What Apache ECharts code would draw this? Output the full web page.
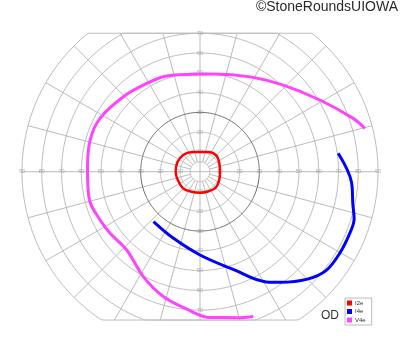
<!DOCTYPE html>
<html><head><meta charset="utf-8">
<script src="https://cdn.jsdelivr.net/npm/echarts@6/dist/echarts.min.js"></script>
<style>html,body{margin:0;padding:0;background:#fff}#c{width:400px;height:352px}</style>
</head><body><div id="c"></div>
<script>
// ---- data: [angle (deg), eccentricity (deg)] ----
const i2e = [[0,10.1],[22,10.6],[45,11.6],[67,10.8],[90,10.0],[112,10.7],[135,12.0],[157,12.4],[180,12.3],[202,12.0],[225,12.0],[247,11.0],[270,10.6],[292,10.8],[315,11.3],[337,10.6],[360,10.1]];
const i4e = [[227,34.5],[248,36.2],[270,42.1],[289,52.4],[301,65.0],[306,69.1],[315,76.8],[322,81.0],[330,81.8],[338,81.9],[343,81.5],[348,79.0],[356,76.8],[7.6,70.5]];
const v4e = [[14.7,86.2],[19.2,82.0],[30.9,70.6],[46.1,60.7],[62.2,54.2],[82.2,49.8],[90,49.3],[109.2,51.2],[121.1,52.1],[135.6,54.2],[151.9,57.3],[163.9,57.8],[179.1,56.9],[194.3,57.7],[205.8,56.1],[214.4,55.1],[226.9,54.2],[241.6,60.3],[253.6,65.8],[264.5,69.8],[273.9,73.9],[285.3,76.5],[290.2,78.0]];
const seriesNames = ['I2e','I4e','V4e'];
// grid definition
const circleRadii = [5,10,20,30,40,50,60,70,80,90];
const spokeAngles = [0,15,30,45,60,75,90,105,120,135,150,165,180,195,210,225,240,255,270,285,300,315,330,345];
const topLimit = 70, bottomLimit = 75, maxEcc = 90;
// tick labels
const hTicks = [10,20,30,40,50,60,70,80,90];
const upTicks = [10,20,30,40,50,60,70];
const downTicks = [10,20,30,40,50,60,70];

const toPolar = arr => arr.map(p => [p[1], p[0]]);
const tickData = [];
hTicks.forEach(v => { tickData.push([v,0,'h']); tickData.push([v,180,'h']); });
upTicks.forEach(v => tickData.push([v,90,'u']));
downTicks.forEach(v => tickData.push([v,270,'d']));

function renderGrid(params, api) {
  const children = [];
  const top = api.coord([topLimit, 90])[1];
  const bottom = api.coord([bottomLimit, 270])[1];
  circleRadii.forEach(r => {
    const pts = [];
    for (let a = 0; a <= 360; a += 1) {
      const p = api.coord([r, a]);
      pts.push([p[0], Math.min(bottom, Math.max(top, p[1]))]);
    }
    children.push({type:'polyline', shape:{points:pts}, style:{stroke: r===30 ? '#6a6a6a' : '#bcbcbc', lineWidth:1, fill:null}, z2: r===30?2:1});
  });
  spokeAngles.forEach(a => {
    const s = Math.sin(a*Math.PI/180);
    let rmax = maxEcc;
    if (s > 1e-6) rmax = Math.min(rmax, topLimit/s);
    if (s < -1e-6) rmax = Math.min(rmax, bottomLimit/(-s));
    const rmin = (a % 90 === 0) ? 0 : circleRadii[0];
    const p0 = api.coord([rmin, a]), p1 = api.coord([rmax, a]);
    children.push({type:'line', shape:{x1:p0[0],y1:p0[1],x2:p1[0],y2:p1[1]}, style:{stroke:'#bcbcbc', lineWidth:1}, z2:1});
  });
  return {type:'group', children};
}

const chart = echarts.init(document.getElementById('c'), null, {renderer:'canvas'});
chart.setOption({
  animation:false,
  backgroundColor:'#fff',
  polar:{center:[200,171.7], radius:178},
  angleAxis:{type:'value', min:0, max:360, startAngle:0, clockwise:false, show:false},
  radiusAxis:{type:'value', min:0, max:maxEcc, show:false},
  legend:{
    orient:'vertical', left:345, top:298, itemWidth:5, itemHeight:5, itemGap:2.5,
    padding:[2,6,2,2], borderColor:'#bbb', borderWidth:1, backgroundColor:'#fff',
    icon:'rect', textStyle:{fontSize:6, color:'#333', padding:[0,0,0,-2]},
    data:seriesNames
  },
  graphic:[
    {type:'text', right:2, top:0, style:{text:'©StoneRoundsUIOWA', font:'14px "Liberation Sans", Arial, sans-serif', fill:'#2a2a2a'}},
    {type:'text', left:321, top:310, style:{text:'OD', font:'12px "Liberation Sans", Arial, sans-serif', fill:'#333'}}
  ],
  series:[
    {type:'custom', coordinateSystem:'polar', data:[[0,0]], renderItem:renderGrid, silent:true, z:1},
    {type:'scatter', coordinateSystem:'polar', data:tickData, symbolSize:0, silent:true, z:2,
      label:{show:true, position:'inside', fontSize:5.5, color:'#999', fontFamily:'Liberation Sans',
        formatter:p=>String(p.value[0])}},
    {name:'I2e', type:'line', coordinateSystem:'polar', data:toPolar(i2e), smooth:0.35, showSymbol:false, symbol:'none', z:5, lineStyle:{color:'#ff0000', width:2.5}, itemStyle:{color:'#ff0000'}},
    {name:'I4e', type:'line', coordinateSystem:'polar', data:toPolar(i4e), smooth:0.35, showSymbol:false, symbol:'none', z:5, lineStyle:{color:'#0000ff', width:3}, itemStyle:{color:'#0000ff'}},
    {name:'V4e', type:'line', coordinateSystem:'polar', data:toPolar(v4e), smooth:0.35, showSymbol:false, symbol:'none', z:5, lineStyle:{color:'#ff44ff', width:3}, itemStyle:{color:'#ff44ff'}}
  ]
});
</script></body></html>
